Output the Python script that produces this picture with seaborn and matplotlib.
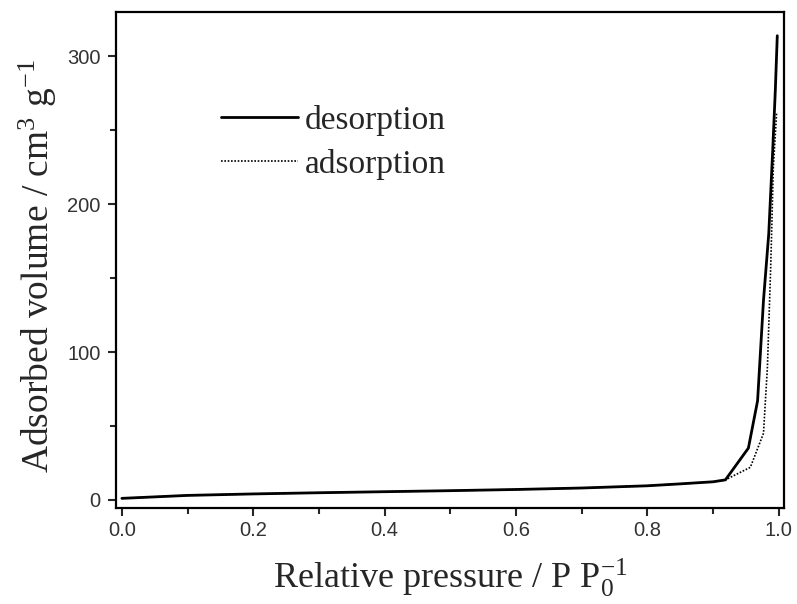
import matplotlib
matplotlib.use("Agg")
import matplotlib.pyplot as plt
import seaborn as sns
import pandas as pd
from matplotlib.ticker import MultipleLocator

# Data
low_p = [0.0, 0.1, 0.2, 0.3, 0.4, 0.5, 0.6, 0.7, 0.8, 0.85, 0.9, 0.919]
low_v = [1.0, 3.0, 4.0, 4.8, 5.5, 6.2, 7.0, 8.0, 9.5, 10.8, 12.2, 13.5]

des_p = low_p + [0.954, 0.968, 0.977, 0.985, 0.991, 0.995, 0.998]
des_v = low_v + [35, 67, 135, 180, 236, 277, 314]

ads_p = low_p + [0.93, 0.957, 0.977, 0.983, 0.988, 0.992, 0.997]
ads_v = low_v + [16, 22, 45, 90, 158, 225, 262]

sns.set_style("ticks")
plt.rcParams['mathtext.fontset'] = 'custom'
plt.rcParams['mathtext.rm'] = 'Liberation Serif'
plt.rcParams['mathtext.it'] = 'Liberation Serif:italic'

fig = plt.figure(figsize=(7.97, 6.04), dpi=100)
ax = fig.add_axes([0.1455, 0.159, 0.838, 0.821])

df_des = pd.DataFrame({"p": des_p, "v": des_v})
df_ads = pd.DataFrame({"p": ads_p, "v": ads_v})
sns.lineplot(data=df_ads, x="p", y="v", ax=ax, color="black", lw=1.2,
             linestyle=(0, (1, 1)), sort=False, label="adsorption")
sns.lineplot(data=df_des, x="p", y="v", ax=ax, color="black", lw=2.0,
             sort=False, label="desorption")

ax.set_xlim(-0.009, 1.008)
ax.set_ylim(-5.5, 330)
ax.xaxis.set_major_locator(MultipleLocator(0.2))
ax.xaxis.set_minor_locator(MultipleLocator(0.1))
ax.yaxis.set_major_locator(MultipleLocator(100))
ax.yaxis.set_minor_locator(MultipleLocator(50))
ax.set_xticklabels([f"{t:.1f}" for t in ax.get_xticks()])
for lab in ax.get_xticklabels() + ax.get_yticklabels():
    lab.set_family("Liberation Sans")
    lab.set_fontsize(14.5)
    lab.set_color("#333333")
ax.tick_params(which="major", direction="out", length=6, width=1.5)
ax.tick_params(which="minor", direction="out", length=4, width=1.5)
ax.tick_params(axis="y", which="major", pad=5)
for s in ax.spines.values():
    s.set_linewidth(1.6)
    s.set_color("black")

ax.set_xlabel(r"Relative pressure / P P$_0^{-1}$", family="Liberation Serif",
              fontsize=26, labelpad=12)
ax.set_ylabel(r"Adsorbed volume / cm$^3$ g$^{-1}$", family="Liberation Serif",
              fontsize=27, labelpad=6)
ax.yaxis.label.set_y(0.488)

h, l = ax.get_legend_handles_labels()
leg = ax.legend([h[1], h[0]], [l[1], l[0]], loc="upper left",
                bbox_to_anchor=(0.138, 0.84), frameon=False,
                prop={"family": "Liberation Serif", "size": 24},
                handlelength=2.3, handletextpad=0.2, labelspacing=0.4,
                borderaxespad=0)

fig.savefig("out.png", dpi=100, facecolor="white")
